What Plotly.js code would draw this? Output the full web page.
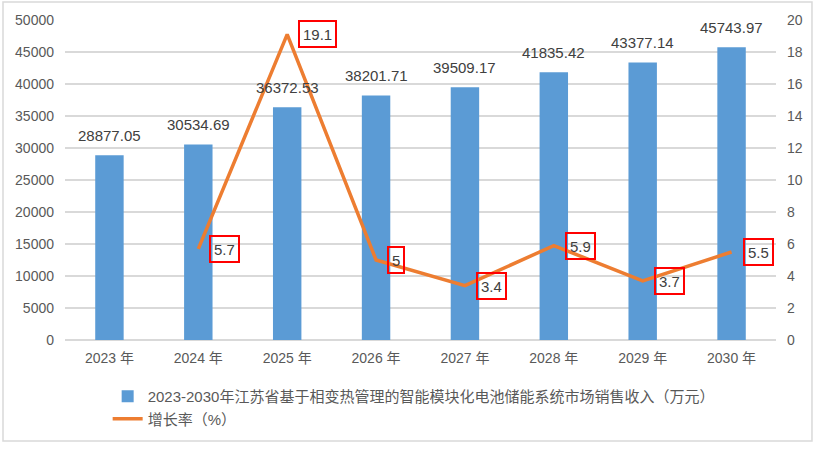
<!DOCTYPE html>
<html>
<head>
<meta charset="utf-8">
<script src="https://cdn.plot.ly/plotly-3.0.1.min.js"></script>
<style>
html,body{margin:0;padding:0;background:#fff;}
#chart{width:819px;height:449px;}
</style>
</head>
<body>
<div id="chart"></div>
<script>
const categories = ['2023 年', '2024 年', '2025 年', '2026 年', '2027 年', '2028 年', '2029 年', '2030 年'];
const revenue = [28877.05, 30534.69, 36372.53, 38201.71, 39509.17, 41835.42, 43377.14, 45743.97];
const growth = [null, 5.7, 19.1, 5, 3.4, 5.9, 3.7, 5.5];
const revenueName = '2023-2030年江苏省基于相变热管理的智能模块化电池储能系统市场销售收入（万元）';
const growthName = '增长率（%）';

const FONT = '"Liberation Sans", "Noto Sans CJK SC", sans-serif';

const bars = {
  type: 'bar',
  x: categories,
  y: revenue,
  name: revenueName,
  marker: {color: '#5B9BD5'},
  yaxis: 'y',
  hoverinfo: 'skip'
};
const line = {
  type: 'scatter',
  mode: 'lines',
  x: categories,
  y: growth,
  name: growthName,
  line: {color: '#ED7D31', width: 3.5},
  yaxis: 'y2',
  connectgaps: false,
  hoverinfo: 'skip'
};

const annotations = [];
categories.forEach((c, i) => {
  annotations.push({
    x: c, y: revenue[i], xref: 'x', yref: 'y',
    text: revenue[i].toFixed(2),
    showarrow: false, yanchor: 'middle', yshift: 20,
    font: {family: FONT, size: 15, color: '#404040'}
  });
  if (growth[i] !== null) {
    annotations.push({
      x: c, y: growth[i], xref: 'x', yref: 'y2',
      text: String(growth[i]),
      showarrow: false, xanchor: 'left', xshift: 11, yanchor: 'middle',
      height: 18,
      bordercolor: '#FF0000', borderwidth: 2, borderpad: 3,
      font: {family: FONT, size: 15, color: '#404040'}
    });
  }
});

const layout = {
  width: 819, height: 449,
  margin: {l: 65, r: 43, t: 20, b: 109},
  paper_bgcolor: '#FFFFFF',
  plot_bgcolor: '#FFFFFF',
  font: {family: FONT, size: 14, color: '#595959'},
  bargap: 0.68,
  showlegend: true,
  legend: {
    orientation: 'v', x: 0.06, xanchor: 'left', y: -0.125, yanchor: 'top',
    font: {family: FONT, size: 15, color: '#595959'},
    bgcolor: 'rgba(0,0,0,0)'
  },
  xaxis: {
    type: 'category',
    showgrid: false, showline: false, zeroline: false,
    ticks: '', ticklabelstandoff: 8,
    tickfont: {family: FONT, size: 14, color: '#595959'}
  },
  yaxis: {
    range: [0, 50000], dtick: 5000, tick0: 0, tickformat: 'd',
    showgrid: true, gridcolor: '#D9D9D9', gridwidth: 1.5,
    zeroline: true, zerolinecolor: '#D9D9D9', zerolinewidth: 1.5,
    showline: false, ticks: '', ticklabelstandoff: 10,
    tickfont: {family: FONT, size: 14, color: '#595959'}
  },
  yaxis2: {
    overlaying: 'y', side: 'right',
    range: [0, 20], dtick: 2, tick0: 0, tickformat: 'd',
    showgrid: false, zeroline: false, showline: false,
    ticks: '', ticklabelstandoff: 10,
    tickfont: {family: FONT, size: 14, color: '#595959'}
  },
  annotations: annotations,
  shapes: [{
    type: 'rect', xref: 'paper', yref: 'paper',
    x0: -0.0872, x1: 1.0506, y0: -0.3156, y1: 1.05625,
    line: {color: '#D9D9D9', width: 1.5}, fillcolor: 'rgba(0,0,0,0)', layer: 'below'
  }]
};

Plotly.newPlot('chart', [bars, line], layout, {displayModeBar: false, staticPlot: true});
</script>
</body>
</html>
